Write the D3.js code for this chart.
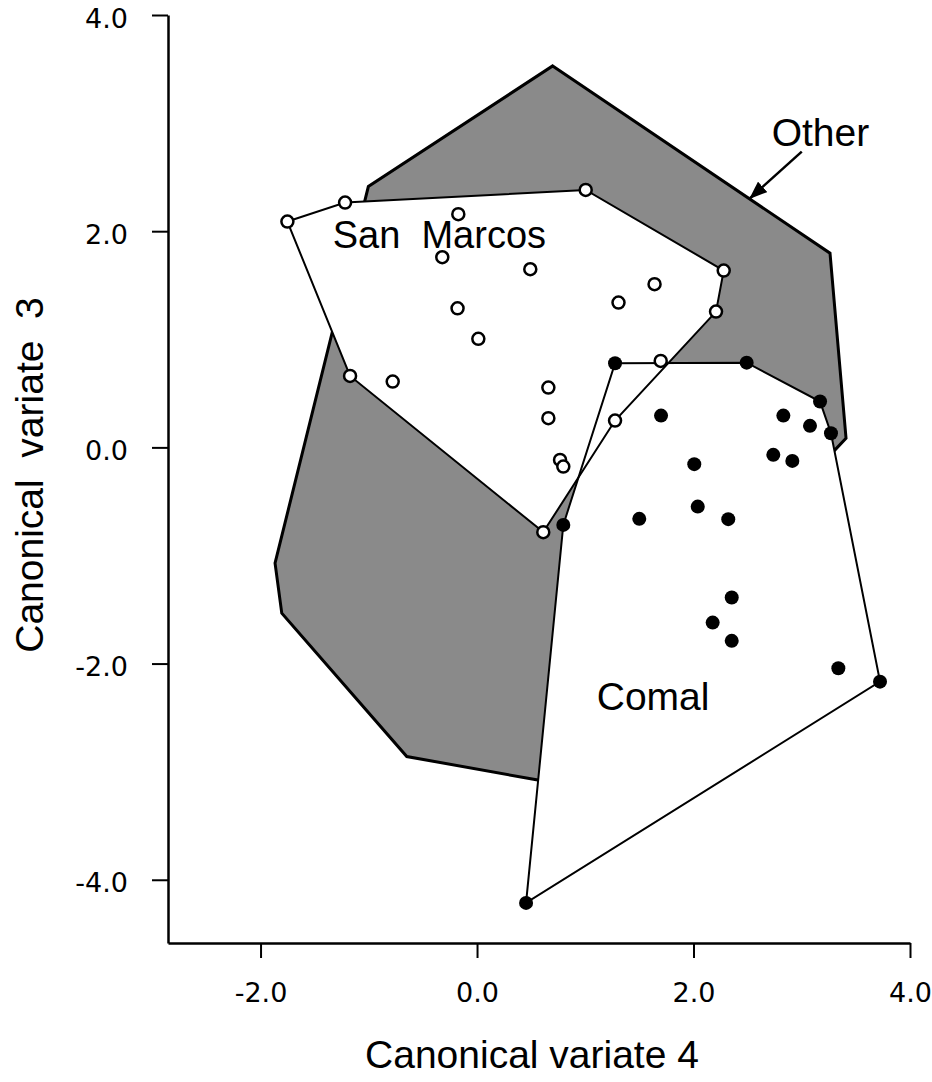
<!DOCTYPE html>
<html>
<head>
<meta charset="utf-8">
<script src="https://cdn.jsdelivr.net/npm/d3@7"></script>
<style>
  body { margin: 0; background: #fff; }
  svg { display: block; }
</style>
</head>
<body>
<div id="chart"></div>
<script>
// San Marcos samples (open circles)
const smX = [-1.752, -1.219, 1.004, -0.173, -0.321, 0.492, 1.640, 1.307, -0.180, 0.012, 2.279,
             2.208, 1.697, 1.275, -1.173, -0.779, 0.659, 0.659, 0.767, 0.797, 0.612];
const smY = [2.089, 2.265, 2.382, 2.157, 1.759, 1.648, 1.510, 1.340, 1.286, 1.004, 1.636,
             1.256, 0.800, 0.248, 0.661, 0.609, 0.553, 0.270, -0.116, -0.178, -0.784];
// outline drawn through these samples, in order
const smHull = [0, 1, 2, 10, 11, 13, 20, 14];

// Comal samples (filled circles)
const comalX = [1.275, 2.491, 3.169, 3.270, 2.830, 3.076, 1.700, 2.737, 2.913, 2.007,
                2.039, 1.499, 2.321, 0.797, 2.353, 2.177, 2.353, 3.338, 3.723, 0.453];
const comalY = [0.779, 0.784, 0.424, 0.131, 0.294, 0.199, 0.294, -0.069, -0.125, -0.155,
                -0.548, -0.661, -0.664, -0.717, -1.389, -1.621, -1.790, -2.043, -2.167, -4.214];
const comalHull = [0, 1, 2, 3, 18, 19, 13];

// "Other" region (shaded polygon only)
const otherX = [0.699, 3.261, 3.409, 3.292, 0.656, -0.649, -1.804, -1.866, -1.004];
const otherY = [3.529, 1.797, 0.085, -0.039, -3.094, -2.860, -1.534, -1.071, 2.413];

const xTicks = [-2, 0, 2, 4];
const yTicks = [4, 2, 0, -2, -4];
const xDomain = [-2.855, 4];
const yDomain = [-4.585, 4];

const w = 932, h = 1082;
const margin = {top: 15, left: 168};
const plot_w = 742, plot_h = 928;

const svg = d3.select("#chart").append("svg").attr("width", w).attr("height", h);

const x = d3.scaleLinear().domain(xDomain).range([0, plot_w]);
const y = d3.scaleLinear().domain(yDomain).range([plot_h, 0]);

const defs = svg.append("defs");

defs.append("marker")
    .attr("id", "arrow")
    .attr("markerUnits", "userSpaceOnUse")
    .attr("markerWidth", 18).attr("markerHeight", 14)
    .attr("refX", 17).attr("refY", 7)
    .attr("orient", "auto")
    .append("path")
    .attr("d", "M0,0L18,7L0,14Z")
    .attr("fill", "#000");

const g = svg.append("g").attr("transform", `translate(${margin.left},${margin.top})`);

const line = d3.line().x(d => x(d[0])).y(d => y(d[1]));

const smPts = smX.map((v, i) => [v, smY[i]]);
const comalPts = comalX.map((v, i) => [v, comalY[i]]);
const otherPts = otherX.map((v, i) => [v, otherY[i]]);
const smOutline = smHull.map(i => smPts[i]);
const comalOutline = comalHull.map(i => comalPts[i]);

// shaded region first (halftone grey), then the white hulls on top
g.append("path")
    .attr("d", line(otherPts) + "Z")
    .attr("fill", "#8a8a8a")
    .attr("stroke", "#000")
    .attr("stroke-width", 3)
    .attr("stroke-linejoin", "miter");

g.append("path").attr("d", line(smOutline) + "Z").attr("fill", "#fff");
g.append("path").attr("d", line(comalOutline) + "Z").attr("fill", "#fff");

g.append("path").attr("d", line(smOutline) + "Z")
    .attr("fill", "none").attr("stroke", "#000").attr("stroke-width", 2);
g.append("path").attr("d", line(comalOutline) + "Z")
    .attr("fill", "none").attr("stroke", "#000").attr("stroke-width", 2);

g.selectAll("circle.sm")
    .data(smPts)
    .enter()
    .append("circle")
    .classed("sm", true)
    .attr("cx", d => x(d[0]))
    .attr("cy", d => y(d[1]))
    .attr("r", 6)
    .attr("fill", "#fff")
    .attr("stroke", "#000")
    .attr("stroke-width", 2.5);

g.selectAll("circle.comal")
    .data(comalPts)
    .enter()
    .append("circle")
    .classed("comal", true)
    .attr("cx", d => x(d[0]))
    .attr("cy", d => y(d[1]))
    .attr("r", 7)
    .attr("fill", "#000");

// axes
const fmt = d => d.toFixed(1);

const xAxis = g.append("g")
    .attr("transform", `translate(0,${plot_h})`)
    .call(d3.axisBottom(x).tickValues(xTicks).tickFormat(fmt)
        .tickSize(15).tickSizeOuter(0).tickPadding(25));

const yAxis = g.append("g")
    .call(d3.axisLeft(y).tickValues(yTicks).tickFormat(fmt)
        .tickSize(16).tickSizeOuter(0).tickPadding(24));

[xAxis, yAxis].forEach(a => {
    a.select(".domain").attr("stroke", "#000").attr("stroke-width", 2.5);
    a.selectAll(".tick line").attr("stroke", "#000").attr("stroke-width", 2);
    a.selectAll(".tick text")
        .attr("fill", "#000")
        .style("font-family", "'DejaVu Sans', sans-serif")
        .style("font-size", "27px");
});
yAxis.selectAll(".tick text").attr("dy", "0.45em");

// group labels
const labelFont = "'Liberation Sans', Arial, sans-serif";

g.append("text")
    .attr("x", x(-1.333))
    .attr("y", y(1.843))
    .style("font-family", labelFont)
    .style("font-size", "38px")
    .style("white-space", "pre")
    .text("San  Marcos");

g.append("text")
    .attr("x", x(1.106))
    .attr("y", y(-2.428))
    .style("font-family", labelFont)
    .style("font-size", "39px")
    .text("Comal");

g.append("text")
    .attr("x", x(2.722))
    .attr("y", y(2.789))
    .style("font-family", labelFont)
    .style("font-size", "39px")
    .text("Other");

g.append("line")
    .attr("x1", x(3.0)).attr("y1", y(2.736))
    .attr("x2", x(2.522)).attr("y2", y(2.305))
    .attr("stroke", "#000")
    .attr("stroke-width", 2.5)
    .attr("marker-end", "url(#arrow)");

// axis titles
svg.append("text")
    .attr("x", 532)
    .attr("y", 1068)
    .attr("text-anchor", "middle")
    .style("font-family", labelFont)
    .style("font-size", "39px")
    .text("Canonical variate 4");

svg.append("text")
    .attr("transform", "translate(43,475) rotate(-90)")
    .attr("text-anchor", "middle")
    .style("font-family", labelFont)
    .style("font-size", "39px")
    .style("white-space", "pre")
    .text("Canonical  variate  3");
</script>
</body>
</html>
